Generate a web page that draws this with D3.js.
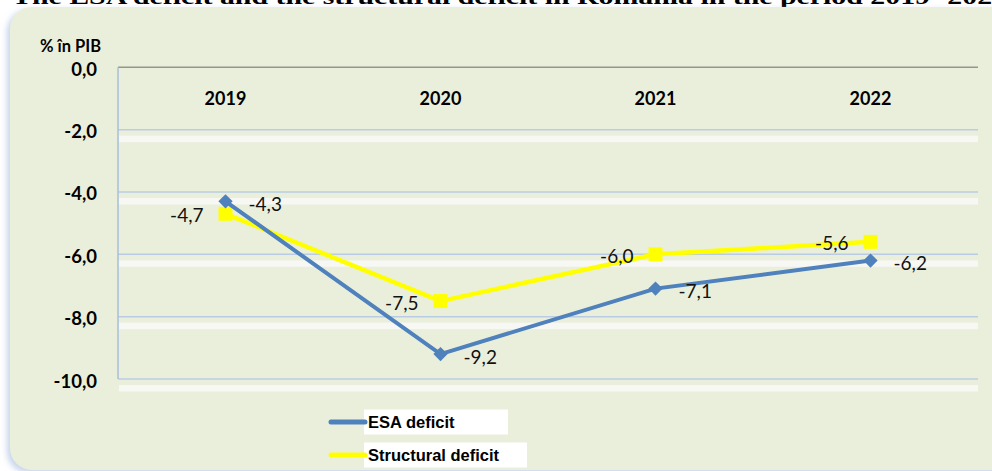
<!DOCTYPE html>
<html>
<head>
<meta charset="utf-8">
<script src="https://cdn.jsdelivr.net/npm/d3@7"></script>
<style>
  body { margin: 0; background: #fff; }
  svg { display: block; }
</style>
</head>
<body>
<div id="chart"></div>
<script>
const years = ["2019", "2020", "2021", "2022"];
const esaDeficit = [-4.3, -9.2, -7.1, -6.2];
const structuralDeficit = [-4.7, -7.5, -6.0, -5.6];
const yTicks = [0, -2, -4, -6, -8, -10];

const width = 992, height = 471;
const fmt = v => d3.format(".1f")(v).replace(".", ",").replace("−", "-");

const svg = d3.select("#chart").append("svg")
    .attr("width", width)
    .attr("height", height);

// shadow for the rounded panel
const defs = svg.append("defs");
const f = defs.append("filter").attr("id", "shadow")
    .attr("x", "-5%").attr("y", "-5%").attr("width", "110%").attr("height", "115%");
f.append("feDropShadow")
    .attr("dx", -3).attr("dy", 3).attr("stdDeviation", 3)
    .attr("flood-color", "#b7c8e6").attr("flood-opacity", 0.8);

// title, cut by the top of the frame
svg.append("text")
    .attr("x", 12).attr("y", 4)
    .attr("textLength", 995)
    .attr("lengthAdjust", "spacingAndGlyphs")
    .style("font-family", "'Liberation Serif', serif")
    .style("font-weight", "bold")
    .style("font-size", "20px")
    .text("The ESA deficit and the structural deficit in Romania in the period 2019- 2022");

svg.append("rect")
    .attr("x", 10).attr("y", 7)
    .attr("width", 1010).attr("height", 463)
    .attr("rx", 22).attr("ry", 22)
    .attr("fill", "#eaefdc")
    .attr("filter", "url(#shadow)");

const x = d3.scaleBand().domain(years).range([118, 978]);
const y = d3.scaleLinear().domain([-10, 0]).range([379, 67.3]);

// gridlines with the white band under each
const grid = svg.append("g");
grid.selectAll("rect.band")
    .data(yTicks.filter(d => d !== 0))
    .enter().append("rect")
    .attr("class", "band")
    .attr("x", 119).attr("width", 859)
    .attr("y", d => y(d) + 6).attr("height", 6.5)
    .attr("fill", "#f7f7f4");
grid.selectAll("line.grid")
    .data(yTicks.filter(d => d !== 0))
    .enter().append("line")
    .attr("class", "grid")
    .attr("x1", 118).attr("x2", 978)
    .attr("y1", d => y(d)).attr("y2", d => y(d))
    .attr("stroke", "#b9cce4").attr("stroke-width", 1.5);

// top line at 0 and left axis
svg.append("line")
    .attr("x1", 118).attr("x2", 978)
    .attr("y1", y(0)).attr("y2", y(0))
    .attr("stroke", "#8f9a8c").attr("stroke-width", 1.5);
svg.append("line")
    .attr("x1", 118).attr("x2", 118)
    .attr("y1", y(0)).attr("y2", y(-10))
    .attr("stroke", "#a9bfda").attr("stroke-width", 1.5);

// y axis labels
svg.append("g").selectAll("text")
    .data(yTicks)
    .enter().append("text")
    .attr("x", 97)
    .attr("y", d => y(d) + 8.5)
    .attr("text-anchor", "end")
    .style("font-family", "Lato, sans-serif")
    .style("font-weight", "bold")
    .style("font-size", "18.5px")
    .text(d => fmt(d));

svg.append("text")
    .attr("x", 40).attr("y", 52)
    .style("font-family", "Lato, sans-serif")
    .style("font-weight", "bold")
    .style("font-size", "16.5px")
    .text("% în PIB");

// category labels at top
svg.append("g").selectAll("text")
    .data(years)
    .enter().append("text")
    .attr("x", d => x(d) + x.bandwidth() / 2)
    .attr("y", 105)
    .attr("text-anchor", "middle")
    .style("font-family", "Lato, sans-serif")
    .style("font-weight", "bold")
    .style("font-size", "18px")
    .text(d => d);

const cx = i => x(years[i]) + x.bandwidth() / 2;
const line = d3.line().x((d, i) => cx(i)).y(d => y(d));

// structural deficit
svg.append("path")
    .datum(structuralDeficit)
    .attr("d", line)
    .attr("fill", "none")
    .attr("stroke", "#ffff00")
    .attr("stroke-width", 4.5);
svg.append("g").selectAll("rect")
    .data(structuralDeficit)
    .enter().append("rect")
    .attr("x", (d, i) => cx(i) - 7)
    .attr("y", d => y(d) - 7)
    .attr("width", 14).attr("height", 14)
    .attr("fill", "#ffff00");

// ESA deficit
svg.append("path")
    .datum(esaDeficit)
    .attr("d", line)
    .attr("fill", "none")
    .attr("stroke", "#4f81bd")
    .attr("stroke-width", 4);
svg.append("g").selectAll("path")
    .data(esaDeficit)
    .enter().append("path")
    .attr("d", d3.symbol().type(d3.symbolDiamond2).size(130))
    .attr("transform", (d, i) => `translate(${cx(i)},${y(d)})`)
    .attr("fill", "#4f81bd");

// data labels
const labelStyle = sel => sel
    .style("font-family", "Lato, sans-serif")
    .style("font-size", "19px")
    .attr("fill", "#111");

svg.append("g").selectAll("text")
    .data(esaDeficit)
    .enter().append("text")
    .attr("x", (d, i) => cx(i) + 23)
    .attr("y", d => y(d) + 9.5)
    .text(d => fmt(d))
    .call(labelStyle);

svg.append("g").selectAll("text")
    .data(structuralDeficit)
    .enter().append("text")
    .attr("x", (d, i) => cx(i) - 22)
    .attr("y", d => y(d) + 8.5)
    .attr("text-anchor", "end")
    .text(d => fmt(d))
    .call(labelStyle);

// legend
const legend = [
    { name: "ESA deficit", color: "#4f81bd", y: 422, boxW: 144 },
    { name: "Structural deficit", color: "#ffff00", y: 455, boxW: 163 }
];
const lg = svg.append("g");
legend.forEach(l => {
    lg.append("rect")
        .attr("x", 364).attr("y", l.y - 12.5)
        .attr("width", l.boxW).attr("height", 25)
        .attr("fill", "#fff");
    lg.append("line")
        .attr("x1", 331).attr("x2", 365)
        .attr("y1", l.y).attr("y2", l.y)
        .attr("stroke", l.color).attr("stroke-width", 5)
        .attr("stroke-linecap", "round");
    lg.append("text")
        .attr("x", 368).attr("y", l.y + 6)
        .style("font-family", "'Liberation Sans', Arial, sans-serif")
        .style("font-weight", "bold")
        .style("font-size", "16.5px")
        .text(l.name);
});
</script>
</body>
</html>
